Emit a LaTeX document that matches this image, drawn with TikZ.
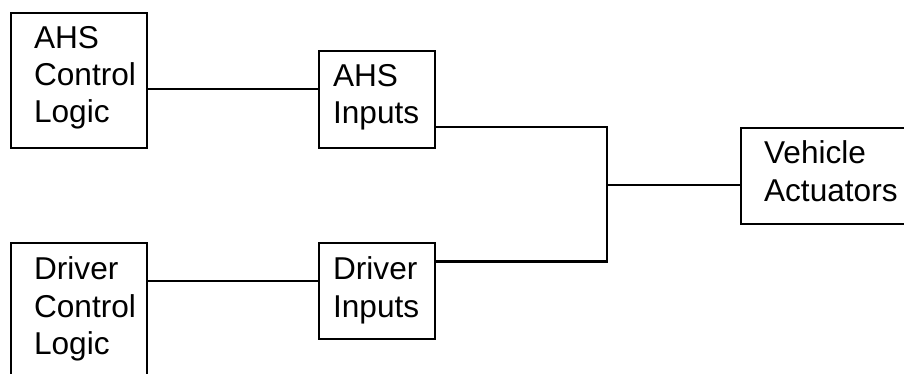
\documentclass[tikz,border=0pt]{standalone}
\usepackage{fontspec}
\setmainfont{Liberation Sans}
\usepackage{tikz}

\tikzset{
    blk/.style={draw, line width=2.2pt, outer sep=0pt, inner sep=0pt, anchor=north west},
    lbl/.style={anchor=north west, inner sep=0pt, align=left, font=\fontsize{31.6}{37.2}\selectfont},
}

\begin{document}
\begin{tikzpicture}[x=1pt, y=-1pt, line width=2.2pt]
    \useasboundingbox (0,0) rectangle (904,374);
    \clip (0,0) rectangle (904,374);

    % control logic blocks
    \node[blk, minimum width=136, minimum height=135] (ahsctl) at (11,13) {};
    \node[blk, minimum width=136, minimum height=135] (drvctl) at (11,243) {};
    \node[lbl] (ahsctltxt) at ([xshift=22, yshift=-12]ahsctl.north west) {AHS\\Control\\Logic};
    \node[lbl] (drvctltxt) at ([xshift=22, yshift=-13]drvctl.north west) {Driver\\Control\\Logic};

    % input blocks
    \node[blk, minimum width=116, minimum height=97] (ahsin) at (319,51) {};
    \node[blk, minimum width=116, minimum height=96] (drvin) at (319,243) {};
    \node[lbl] (ahsintxt) at ([xshift=13, yshift=-12]ahsin.north west) {AHS\\Inputs};
    \node[lbl] (drvintxt) at ([xshift=13, yshift=-13]drvin.north west) {Driver\\Inputs};

    % actuators (runs off the right edge)
    \node[blk, minimum width=190, minimum height=96] (veh) at (741,128) {};
    \node[lbl] (vehtxt) at ([xshift=22, yshift=-12]veh.north west) {Vehicle\\Actuators};

    % wiring
    \coordinate (j) at (607,185);
    \draw ([yshift=-8.5]ahsctl.east) -- ([yshift=-8.5]ahsctl.east -| ahsin.west);
    \draw ([yshift=29.5]drvctl.east) -- ([yshift=29.5]drvctl.east -| drvin.west);
    \draw ([yshift=-27.5]ahsin.east) -| (j);
    \draw ([yshift=29.5]drvin.east) -| (j);
    \draw (j) -- (j -| veh.west);
\end{tikzpicture}
\end{document}
